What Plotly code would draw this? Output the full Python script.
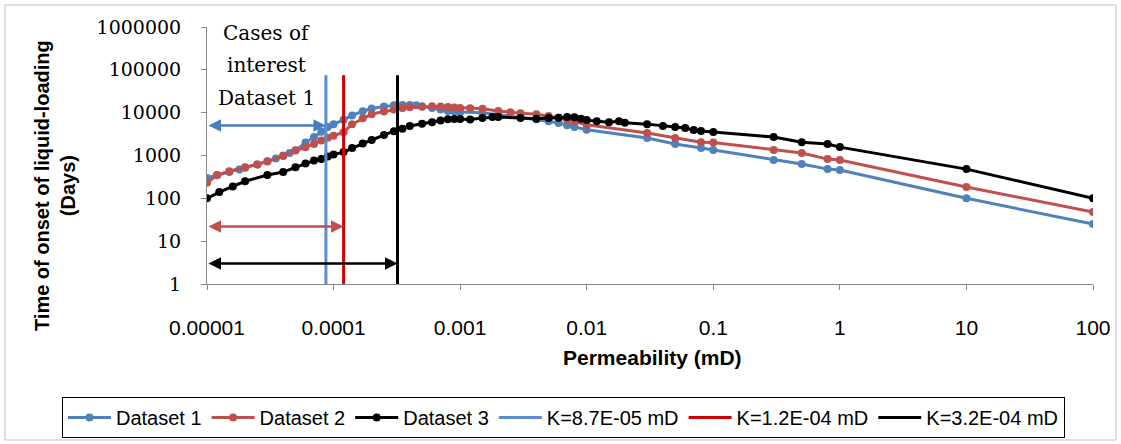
import numpy as np
import plotly.graph_objects as go

# ---------------- data ----------------
x_ds1 = [1e-5, 1.2e-5, 1.5e-5, 1.8e-5, 2e-5, 2.5e-5, 3e-5, 3.5e-5, 4e-5, 4.5e-5, 5e-5, 6e-5, 7e-5,
         8e-5, 9e-5, 1e-4, 1.2e-4, 1.4e-4, 1.7e-4, 2e-4, 2.5e-4, 3e-4, 3.5e-4, 4e-4, 4.5e-4, 5e-4,
         6e-4, 7e-4, 8e-4, 9e-4, 1e-3, 1.5e-3, 2e-3, 3e-3, 4e-3, 5e-3, 6e-3, 7e-3, 8e-3, 1e-2,
         0.03, 0.05, 0.08, 0.1, 0.3, 0.5, 0.8, 1, 10, 100]
y_ds1 = [300, 345, 410, 470, 520, 620, 730, 850, 1000, 1150, 1320, 2000, 2700,
         3600, 4600, 5400, 6800, 8600, 10800, 12500, 14000, 14800, 15200, 15200, 14800, 14200,
         12800, 11800, 11000, 10600, 10300, 9900, 9000, 7800, 7000, 6300, 5700, 5100, 4600, 4000,
         2550, 1850, 1490, 1340, 781, 630, 481, 456, 100, 25]

x_ds2 = [1e-5, 1.2e-5, 1.5e-5, 2e-5, 2.5e-5, 3e-5, 4e-5, 5e-5, 6e-5, 7e-5, 8e-5, 9e-5, 1e-4,
         1.2e-4, 1.4e-4, 1.7e-4, 2e-4, 2.5e-4, 3e-4, 3.5e-4, 4e-4, 5e-4, 6e-4, 7e-4, 8e-4, 9e-4,
         1e-3, 1.2e-3, 1.5e-3, 2e-3, 2.5e-3, 3e-3, 4e-3, 5e-3, 6e-3, 7e-3, 8e-3, 1e-2,
         0.03, 0.05, 0.08, 0.1, 0.3, 0.5, 0.8, 1, 10, 100]
y_ds2 = [230, 350, 430, 530, 620, 720, 980, 1300, 1550, 1850, 2250, 2600, 2900,
         3500, 5400, 7400, 9200, 10700, 11800, 12800, 13300, 13800, 14200, 14000, 13500, 13200,
         12800, 12600, 12300, 11000, 10200, 9700, 9200, 8400, 7600, 6800, 6200, 5200,
         3340, 2550, 2050, 2000, 1340, 1140, 824, 781, 183, 48]

x_ds3 = [1e-5, 1.25e-5, 1.6e-5, 2e-5, 3e-5, 4e-5, 5e-5, 6e-5, 7e-5, 8e-5, 9e-5, 1e-4, 1.2e-4,
         1.4e-4, 1.7e-4, 2e-4, 2.5e-4, 3e-4, 3.5e-4, 4e-4, 5e-4, 6e-4, 7e-4, 8e-4, 9e-4, 1e-3,
         1.2e-3, 1.5e-3, 1.8e-3, 2e-3, 3e-3, 4e-3, 5e-3, 6e-3, 7e-3, 8e-3, 9e-3, 1e-2, 1.2e-2,
         1.5e-2, 1.8e-2, 2e-2, 3e-2, 4e-2, 5e-2, 6e-2, 7e-2, 8e-2, 0.1, 0.3, 0.5, 0.8, 1, 10, 100]
y_ds3 = [100, 140, 190, 250, 350, 410, 530, 650, 760, 830, 950, 1050, 1200,
         1500, 1900, 2300, 3000, 3700, 4200, 4900, 5500, 6000, 6600, 7000, 7100, 7100,
         6900, 7500, 7900, 7900, 7500, 7200, 7500, 7600, 7900, 7800, 7200, 6700, 6300,
         6000, 6300, 5800, 5400, 4860, 4600, 4370, 3920, 3720, 3520, 2690, 2050, 1850, 1570, 481, 100]

k_values = [8.7e-5, 1.2e-4, 3.2e-4]
k_names = ["K=8.7E-05 mD", "K=1.2E-04 mD", "K=3.2E-04 mD"]
k_line_y = [1, 75000]
arrow_y = [5000, 22, 3]

dataset_names = ["Dataset 1", "Dataset 2", "Dataset 3"]
x_tickvals = [1e-5, 1e-4, 1e-3, 1e-2, 1e-1, 1, 10, 100]
x_ticktext = ["0.00001", "0.0001", "0.001", "0.01", "0.1", "1", "10", "100"]
y_tickvals = [1, 10, 100, 1000, 10000, 100000, 1000000]
y_ticktext = ["1", "10", "100", "1000", "10000", "100000", "1000000"]

# ---------------- styles ----------------
ds_colors = ["#4F81BD", "#C0504D", "#000000"]
k_colors = ["#5B8ED0", "#D40000", "#000000"]
arrow_colors = ["#4A7EBB", "#C0504D", "#000000"]

W, H = 1121, 444
L, R, T, B = 207, 28, 27, 160
pw, ph = W - L - R, H - T - B


def px(xp):
    return (xp - L) / pw


def py(yp):
    return (H - B - yp) / ph


fig = go.Figure()
for name, xs, ys, c in zip(dataset_names, [x_ds1, x_ds2, x_ds3], [y_ds1, y_ds2, y_ds3], ds_colors):
    fig.add_trace(go.Scatter(x=xs, y=ys, name=name, mode="lines+markers",
                             line=dict(color=c, width=3), marker=dict(color=c, size=8)))
for k, name, c in zip(k_values, k_names, k_colors):
    fig.add_trace(go.Scatter(x=[k, k], y=k_line_y, name=name, mode="lines",
                             line=dict(color=c, width=3)))

annotations = []
for k, yv, c in zip(k_values, arrow_y, arrow_colors):
    annotations.append(dict(x=np.log10(k), y=np.log10(yv), ax=np.log10(x_tickvals[0]), ay=np.log10(yv),
                            xref="x", yref="y", axref="x", ayref="y", text="", showarrow=True,
                            arrowhead=2, startarrowhead=2, arrowside="end+start", arrowsize=1,
                            startarrowsize=1, arrowwidth=2.5, arrowcolor=c, standoff=0, startstandoff=0))

serif = "DejaVu Serif"
for txt, yp in zip(["Cases of", "interest", "Dataset 1"], [33, 65, 98]):
    annotations.append(dict(x=px(266), y=py(yp), xref="paper", yref="paper", text=txt, showarrow=False,
                            xanchor="center", yanchor="middle", font=dict(family=serif, size=20, color="black")))

sans = "Liberation Sans"
annotations.append(dict(x=px(55), y=py(186), xref="paper", yref="paper",
                        text="<b>Time of onset of liquid-loading</b><br><b>(Days)</b>", textangle=-90,
                        showarrow=False, xanchor="center", yanchor="middle",
                        font=dict(family=sans, size=20, color="black")))
annotations.append(dict(x=px(652), y=py(358), xref="paper", yref="paper", text="<b>Permeability (mD)</b>",
                        showarrow=False, xanchor="center", yanchor="middle",
                        font=dict(family=sans, size=21, color="black")))

fig.update_layout(
    width=W, height=H, margin=dict(l=L, r=R, t=T, b=B, autoexpand=False),
    paper_bgcolor="white", plot_bgcolor="white", showlegend=True,
    legend=dict(orientation="h", xref="paper", yref="paper",
                x=px(62), xanchor="left", y=py(397), yanchor="top",
                bordercolor="black", borderwidth=1,
                font=dict(family=sans, size=20, color="black"),
                itemwidth=43, tracegroupgap=0),
    annotations=annotations,
    shapes=[dict(type="rect", xref="paper", yref="paper", x0=px(5), x1=px(1116), y0=py(440), y1=py(5),
                 line=dict(color="#BFBFBF", width=1), layer="below")],
)
fig.update_xaxes(type="log", range=[-5, 2], tickvals=x_tickvals, ticktext=x_ticktext,
                 showgrid=False, zeroline=False, showline=True, linecolor="#868686", linewidth=1,
                 ticks="outside", ticklen=5, tickcolor="#868686", ticklabelstandoff=20,
                 tickfont=dict(family=sans, size=21, color="black"))
fig.update_yaxes(type="log", range=[0, 6], tickvals=y_tickvals, ticktext=y_ticktext,
                 showgrid=False, zeroline=False, showline=True, linecolor="#868686", linewidth=1,
                 ticks="outside", ticklen=5, tickcolor="#868686", ticklabelstandoff=16,
                 tickfont=dict(family=serif, size=19, color="black"))

fig.write_html("out.html")
